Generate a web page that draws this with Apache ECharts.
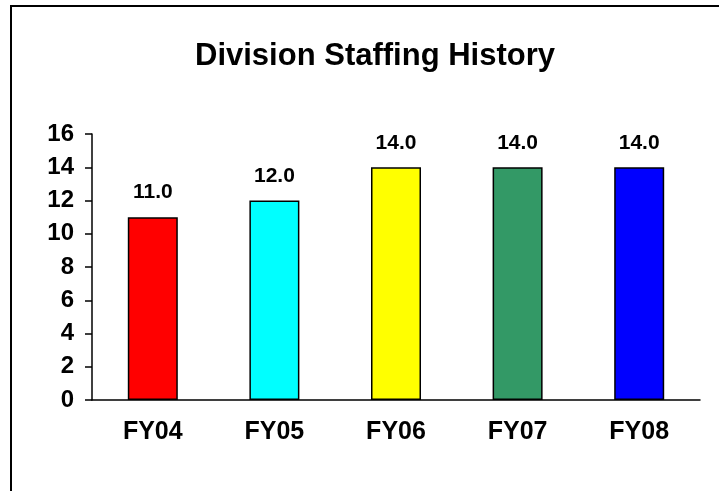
<!DOCTYPE html>
<html>
<head>
<meta charset="utf-8">
<script src="https://cdn.jsdelivr.net/npm/echarts@6/dist/echarts.min.js"></script>
<style>
  html, body { margin: 0; padding: 0; background: #fff; }
  #main { width: 719px; height: 491px; }
</style>
</head>
<body>
<div id="main"></div>
<script>
const years = ['FY04', 'FY05', 'FY06', 'FY07', 'FY08'];
const staff = [11, 12, 14, 14, 14];
const barColors = ['#FF0000', '#00FFFF', '#FFFF00', '#339966', '#0000FF'];
const yTicks = [0, 16, 2]; // min, max, step

const chart = echarts.init(document.getElementById('main'));
const font = 'Liberation Sans, Arial, sans-serif';

chart.setOption({
  animation: false,
  title: {
    text: 'Division Staffing History',
    left: 370,
    top: 36,
    textAlign: 'center',
    textStyle: { fontFamily: font, fontSize: 31, fontWeight: 'bold', color: '#000' }
  },
  graphic: [{
    type: 'rect',
    shape: { x: 11, y: 6, width: 900, height: 700 },
    style: { fill: 'none', stroke: '#000', lineWidth: 2 }
  }],
  grid: { left: 92, right: 19, top: 134, bottom: 91 },
  xAxis: {
    type: 'category',
    data: years,
    axisLine: { lineStyle: { color: '#000', width: 1.5 } },
    axisTick: { length: 8, lineStyle: { color: '#000', width: 1.5 } },
    axisLabel: { margin: 20, color: '#000', fontFamily: font, fontSize: 25, fontWeight: 'bold' }
  },
  yAxis: {
    type: 'value',
    min: yTicks[0],
    max: yTicks[1],
    interval: yTicks[2],
    splitLine: { show: false },
    axisLine: { show: true, lineStyle: { color: '#000', width: 1.5 } },
    axisTick: { show: true, length: 7, lineStyle: { color: '#000', width: 1.5 } },
    axisLabel: { margin: 18, color: '#000', fontFamily: font, fontSize: 24, fontWeight: 'bold' }
  },
  series: [{
    type: 'bar',
    barWidth: 50,
    data: staff.map((v, i) => ({
      value: v,
      itemStyle: { color: barColors[i], borderColor: '#000', borderWidth: 1.5 }
    })),
    label: {
      show: true,
      position: 'top',
      distance: 14,
      color: '#000',
      fontFamily: font,
      fontSize: 21,
      fontWeight: 'bold',
      formatter: p => p.value.toFixed(1)
    }
  }]
});
</script>
</body>
</html>
